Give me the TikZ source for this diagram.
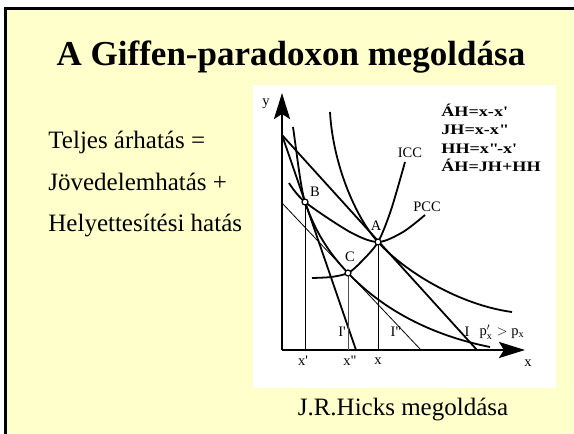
\documentclass[tikz,border=0pt]{standalone}
\usepackage{fontspec}
\setmainfont{Liberation Serif}
\newfontfamily\keplet[FakeStretch=1.25]{Liberation Serif}
\usetikzlibrary{arrows.meta, positioning, calc}
\definecolor{halvanysarga}{RGB}{255,255,204}

\begin{document}
\begin{tikzpicture}[x=1pt, y=-1pt, thick, inner sep=0pt, text=black,
        >={Stealth[length=26pt, width=16pt, inset=5pt]},
        gorbe/.style={line width=1.8pt},
        vekony/.style={line width=0.8pt},
        pont/.style={circle, draw, fill=white, line width=1.2pt, minimum size=6pt},
        cimke/.style={font=\fontsize{14.5}{16}\selectfont},
        szoveg/.style={font=\fontsize{25}{30}\selectfont},
        keplet/.style={anchor=base west, font=\keplet\bfseries\fontsize{14.5}{17}\selectfont}]
        \useasboundingbox (0,0) rectangle (574,434);
        % Hatter es keret
        \fill[white] (0,0) rectangle (574,434);
        \fill[halvanysarga] (5,8) rectangle (580,440);
        \draw[line width=3pt] (5,440) -- (5,8) -- (580,8);
        \fill[white] (253,85) rectangle (556,388);

        % Szovegek
        \node[anchor=base, font=\bfseries\fontsize{35}{40}\selectfont] (cim) at (291,65) {A Giffen-paradoxon megoldása};
        \node[szoveg, anchor=base west] (sor1) at (48,148) {Teljes árhatás =};
        \node[szoveg, anchor=base west] (sor2) at (48,190) {Jövedelemhatás +};
        \node[szoveg, anchor=base west] (sor3) at (48,231) {Helyettesítési hatás};
        \node[szoveg, anchor=base] (hicks) at (403,415) {J.R.Hicks megoldása};

        % Kepletek
        \node[keplet] (k1) at (441,116) {ÁH=x-x\textquotesingle};
        \node[keplet] (k2) at (441,134.5) {JH=x-x\textquotedbl};
        \node[keplet] (k3) at (441,153) {HH=x\textquotedbl-x\textquotesingle};
        \node[keplet] (k4) at (441,171.5) {ÁH=JH+HH};

        % Pontok es tengelyek
        \coordinate (O) at (282,350);
        \coordinate (ycs) at (282,93);
        \coordinate (xcs) at (525,350);
        \coordinate (A) at (378,242);
        \coordinate (B) at (305,202);
        \coordinate (C) at (348,273);
        \draw[->, line width=2.4pt] (O) -- (ycs);
        \draw[->, line width=2.4pt] (O) -- (xcs);

        % Koltsegvetesi egyenesek
        \coordinate (Y1) at (282,135);
        \coordinate (I1) at (477,350);
        \coordinate (I2) at (356,350);
        \coordinate (Y3) at (282,203);
        \coordinate (I3) at (421,350);
        \draw[gorbe] (Y1) -- (I1);
        \draw[gorbe] (Y1) -- (I2);
        \draw[vekony] (Y3) -- (I3);

        % Fuggoleges vonalak
        \draw[vekony] (B) -- (B |- O);
        \draw[vekony, black!70] (C) -- (C |- O);
        \draw[vekony] (A) -- (A |- O);

        % Kozombossegi gorbek
        \draw[gorbe] (330,112) .. controls (333,165) and (356,218) .. (A) .. controls (405,272) and (460,305) .. (512,312);
        \draw[gorbe] (293,127) .. controls (297,155) and (301,190) .. (B) .. controls (315,231) and (328,252) .. (C) .. controls (388,315) and (440,337) .. (490,347);

        % PCC es ICC
        \draw[gorbe] plot[smooth] coordinates {(289,183) (B) (350,232) (A) (403,232) (425,215)};
        \draw[gorbe] plot[smooth] coordinates {(312,278) (331,277) (C) (361,262) (A) (391,210) (405,162)};

        \node[pont] (pA) at (A) {};
        \node[pont] (pB) at (B) {};
        \node[pont] (pC) at (C) {};

        % Cimkek
        \node[cimke] (lA) at (376,226) {A};
        \node[cimke] (lB) at (315,192) {B};
        \node[cimke] (lC) at (350,257) {C};
        \node[cimke] (lpcc) at (427,207) {PCC};
        \node[cimke] (licc) at (410,153) {ICC};
        \node[cimke] (lI1) at (467,332) {I};
        \node[cimke] (lI2) at (342,332) {I\textquotesingle};
        \node[cimke] (lI3) at (396,332) {I\textquotedbl};
        \node[cimke] (lp) at (502,332) {$\mathrm{p}'_{\mathrm{x}} > \mathrm{p}_{\mathrm{x}}$};
        \node[cimke] (lx1) at (303,361) {x\textquotesingle};
        \node[cimke] (lx2) at (350,361) {x\textquotedbl};
        \node[cimke] (lx3) at (378,361) {x};
        \node[cimke] (ly) at (266,104) {y};
        \node[cimke] (lx) at (528,363) {x};
\end{tikzpicture}
\end{document}
